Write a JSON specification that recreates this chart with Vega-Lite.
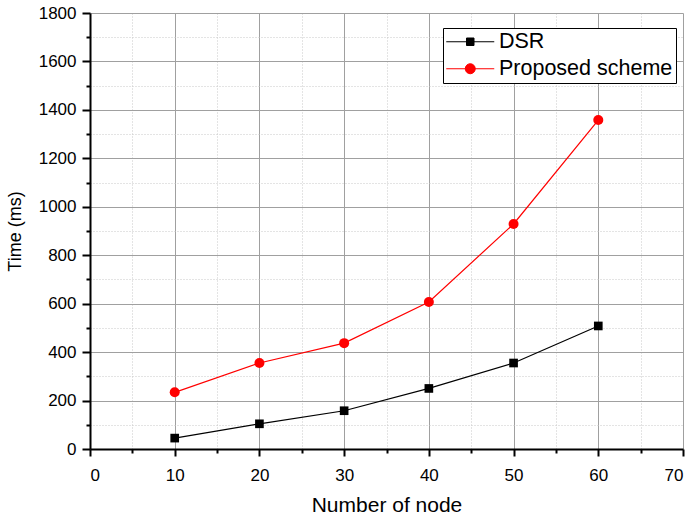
{
  "$schema": "https://vega.github.io/schema/vega-lite/v6.json",
  "autosize": "none",
  "width": 593,
  "height": 436,
  "padding": {"left": 90, "top": 13, "right": 7, "bottom": 70},
  "background": "white",
  "config": {
    "view": {"stroke": null},
    "axis": {
      "labelFont": "Liberation Sans",
      "titleFont": "Liberation Sans",
      "labelColor": "black",
      "titleColor": "black",
      "titleFontWeight": "normal",
      "domainColor": "black",
      "tickColor": "black"
    }
  },
  "data": {
    "values": [
      {"n": 10, "series": "DSR", "t": 45},
      {"n": 20, "series": "DSR", "t": 104},
      {"n": 30, "series": "DSR", "t": 158},
      {"n": 40, "series": "DSR", "t": 250},
      {"n": 50, "series": "DSR", "t": 355},
      {"n": 60, "series": "DSR", "t": 508},
      {"n": 10, "series": "Proposed scheme", "t": 234},
      {"n": 20, "series": "Proposed scheme", "t": 355},
      {"n": 30, "series": "Proposed scheme", "t": 437},
      {"n": 40, "series": "Proposed scheme", "t": 607},
      {"n": 50, "series": "Proposed scheme", "t": 929},
      {"n": 60, "series": "Proposed scheme", "t": 1358}
    ]
  },
  "resolve": {"axis": {"x": "independent", "y": "independent"}},
  "layer": [
    {
      "mark": {"type": "line", "strokeWidth": 1.2},
      "encoding": {
        "x": {
          "field": "n", "type": "quantitative",
          "scale": {"domain": [0, 70], "nice": false},
          "axis": {
            "orient": "bottom", "values": [5, 15, 25, 35, 45, 55, 65],
            "labels": false, "domain": false, "title": null,
            "tickSize": 4, "tickWidth": 2,
            "grid": true, "gridColor": "#c8c8c8", "gridDash": [1, 2], "gridWidth": 1
          }
        },
        "y": {
          "field": "t", "type": "quantitative",
          "scale": {"domain": [0, 1800], "nice": false},
          "axis": {
            "orient": "left", "values": [100, 300, 500, 700, 900, 1100, 1300, 1500, 1700],
            "labels": false, "domain": false, "title": null,
            "tickSize": 4, "tickWidth": 2,
            "grid": true, "gridColor": "#c8c8c8", "gridDash": [1, 2], "gridWidth": 1
          }
        },
        "color": {
          "field": "series", "type": "nominal",
          "scale": {"domain": ["DSR", "Proposed scheme"], "range": ["black", "#ff0000"]},
          "legend": {
            "title": null,
            "orient": "none",
            "legendX": 353,
            "legendY": 15,
            "strokeColor": "black",
            "fillColor": "white",
            "padding": 3,
            "labelFont": "Liberation Sans",
            "labelFontSize": 21.5,
            "labelColor": "black",
            "labelLimit": 400,
            "rowPadding": 4,
            "symbolSize": 100,
            "symbolOffset": 13.5,
            "labelOffset": 18,
            "symbolStrokeWidth": 1,
            "symbolOpacity": 1,
            "symbolType": {"expr": "datum.value === 'DSR' ? 'M-4.8,0H4.8M-0.75,-0.75H0.75V0.75H-0.75Z' : 'M-4.8,0H4.8M-1,0A1,1 0 1,0 1,0A1,1 0 1,0 -1,0Z'"},
            "symbolFillColor": {"expr": "datum.value === 'DSR' ? 'black' : '#ff0000'"}
          }
        }
      }
    },
    {
      "mark": {"type": "point", "filled": true, "opacity": 1},
      "encoding": {
        "x": {
          "field": "n", "type": "quantitative",
          "axis": {
            "orient": "bottom", "values": [0, 10, 20, 30, 40, 50, 60, 70],
            "title": "Number of node", "titleFontSize": 21, "titlePadding": 11,
            "labelFontSize": 17, "labelPadding": 11,
            "tickSize": 7, "tickWidth": 2, "domainWidth": 2,
            "grid": true, "gridColor": "#a0a0a0", "gridWidth": 1
          }
        },
        "y": {
          "field": "t", "type": "quantitative",
          "axis": {
            "orient": "left", "values": [0, 200, 400, 600, 800, 1000, 1200, 1400, 1600, 1800],
            "format": "d",
            "title": "Time (ms)", "titleFontSize": 18, "titlePadding": 14,
            "labelFontSize": 17, "labelPadding": 6,
            "tickSize": 8, "tickWidth": 2, "domainWidth": 2,
            "grid": true, "gridColor": "#a0a0a0", "gridWidth": 1
          }
        },
        "color": {
          "condition": {"test": "datum.series === 'DSR'", "value": "black"},
          "value": "#ff0000"
        },
        "shape": {
          "condition": {"test": "datum.series === 'DSR'", "value": "square"},
          "value": "circle"
        },
        "size": {
          "condition": {"test": "datum.series === 'DSR'", "value": 75},
          "value": 100
        }
      }
    }
  ]
}
